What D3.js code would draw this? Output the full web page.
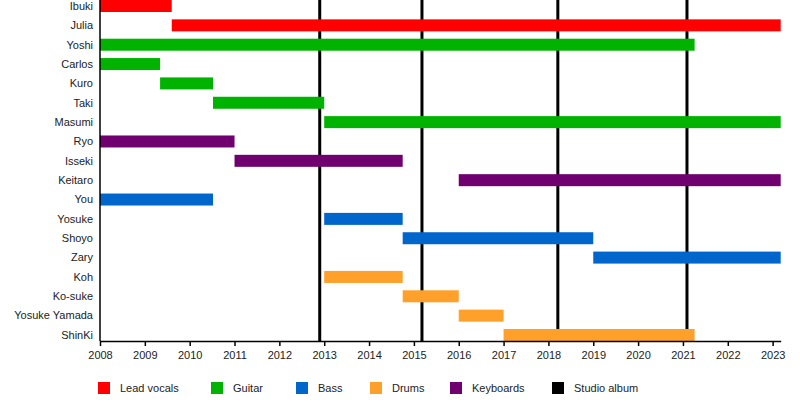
<!DOCTYPE html>
<html>
<head>
    <meta charset="utf-8">
    <title>Band members timeline</title>
    <script src="https://d3js.org/d3.v7.min.js"></script>
    <style>
      body { margin: 0; background: #fff; }
      text { font-family: "Liberation Sans", Arial, sans-serif; font-size: 11px; fill: #222; }
    </style>
</head>
<body>
    <script>
      var width = 800, height = 405;

      // members, in display order
      var members = ["Ibuki", "Julia", "Yoshi", "Carlos", "Kuro", "Taki", "Masumi", "Ryo", "Isseki",
        "Keitaro", "You", "Yosuke", "Shoyo", "Zary", "Koh", "Ko-suke", "Yosuke Yamada", "ShinKi"];
      // role of each member (same order)
      var roles = ["vocals", "vocals", "guitar", "guitar", "guitar", "guitar", "guitar", "keys", "keys",
        "keys", "bass", "bass", "bass", "bass", "drums", "drums", "drums", "drums"];
      // start / end in decimal years (same order)
      var starts = [2008, 2009.6, 2008, 2008, 2009.34, 2010.52, 2013.0, 2008, 2011.0,
        2016.0, 2008, 2013.0, 2014.75, 2019.0, 2013.0, 2014.75, 2016.0, 2017.0];
      var ends = [2009.6, 2023.18, 2021.26, 2009.34, 2010.52, 2013.0, 2023.18, 2011.0, 2014.75,
        2023.18, 2010.52, 2014.75, 2019.0, 2023.18, 2014.75, 2016.0, 2017.0, 2021.26];

      // studio album releases
      var albums = [2012.9, 2015.18, 2018.21, 2021.09];

      var tickYears = d3.range(2008, 2024);

      var legendKeys = ["vocals", "guitar", "bass", "drums", "keys", "album"];
      var legendLabels = ["Lead vocals", "Guitar", "Bass", "Drums", "Keyboards", "Studio album"];
      var legendX = [98, 211, 296, 370, 450, 552];

      var colors = {
        vocals: "#ff0000",
        guitar: "#00b300",
        bass: "#0066cc",
        drums: "#ffa02a",
        keys: "#700070",
        album: "#000000"
      };

      var plotLeft = 100, plotRight = 780.7, plotTop = 0, axisY = 341;

      var x = d3.scaleLinear().domain([2008, 2023.18]).range([plotLeft, plotRight]);
      var y = d3.scaleBand().domain(members).range([plotTop, axisY]).paddingInner(0.38).paddingOuter(0);

      var svg = d3.select("body").append("svg")
        .attr("width", width)
        .attr("height", height);

      var rows = members.map(function(m, i) {
        return { name: m, role: roles[i], start: starts[i], end: ends[i] };
      });

      // album lines (under the bars)
      svg.append("g").selectAll("line")
        .data(albums)
        .enter()
        .append("line")
        .attr("x1", function(d) { return x(d); })
        .attr("x2", function(d) { return x(d); })
        .attr("y1", 0)
        .attr("y2", axisY)
        .attr("stroke", "#000")
        .attr("stroke-width", 3);

      // bars
      svg.append("g").selectAll("rect")
        .data(rows)
        .enter()
        .append("rect")
        .attr("x", function(d) { return x(d.start); })
        .attr("y", function(d) { return y(d.name); })
        .attr("width", function(d) { return x(d.end) - x(d.start); })
        .attr("height", y.bandwidth())
        .attr("fill", function(d) { return colors[d.role]; });

      // member names
      svg.append("g").selectAll("text")
        .data(rows)
        .enter()
        .append("text")
        .attr("x", 93)
        .attr("y", function(d) { return y(d.name) + y.bandwidth() / 2; })
        .attr("dy", "0.35em")
        .attr("text-anchor", "end")
        .text(function(d) { return d.name; });

      // x axis
      var axis = svg.append("g")
        .attr("transform", "translate(0," + axisY + ")")
        .call(d3.axisBottom(x).tickValues(tickYears).tickFormat(d3.format("d")).tickSize(5).tickSizeOuter(0));
      axis.select(".domain").attr("stroke", "#000").attr("stroke-width", 1.5);
      axis.selectAll(".tick line").attr("stroke", "#000").attr("stroke-width", 1.5);
      axis.selectAll(".tick text").attr("font-family", "Liberation Sans, Arial, sans-serif")
        .attr("font-size", 11).attr("fill", "#222").attr("dy", "0.95em");

      // y axis line
      svg.append("line")
        .attr("x1", plotLeft).attr("x2", plotLeft)
        .attr("y1", 0).attr("y2", axisY)
        .attr("stroke", "#000").attr("stroke-width", 1.5);

      // legend
      var legend = svg.append("g").selectAll("g")
        .data(legendKeys)
        .enter()
        .append("g")
        .attr("transform", function(d, i) { return "translate(" + legendX[i] + ",382)"; });
      legend.append("rect")
        .attr("width", 12).attr("height", 12)
        .attr("fill", function(d) { return colors[d]; });
      legend.append("text")
        .attr("x", 22).attr("y", 6).attr("dy", "0.35em")
        .text(function(d, i) { return legendLabels[i]; });
    </script>
</body>
</html>
